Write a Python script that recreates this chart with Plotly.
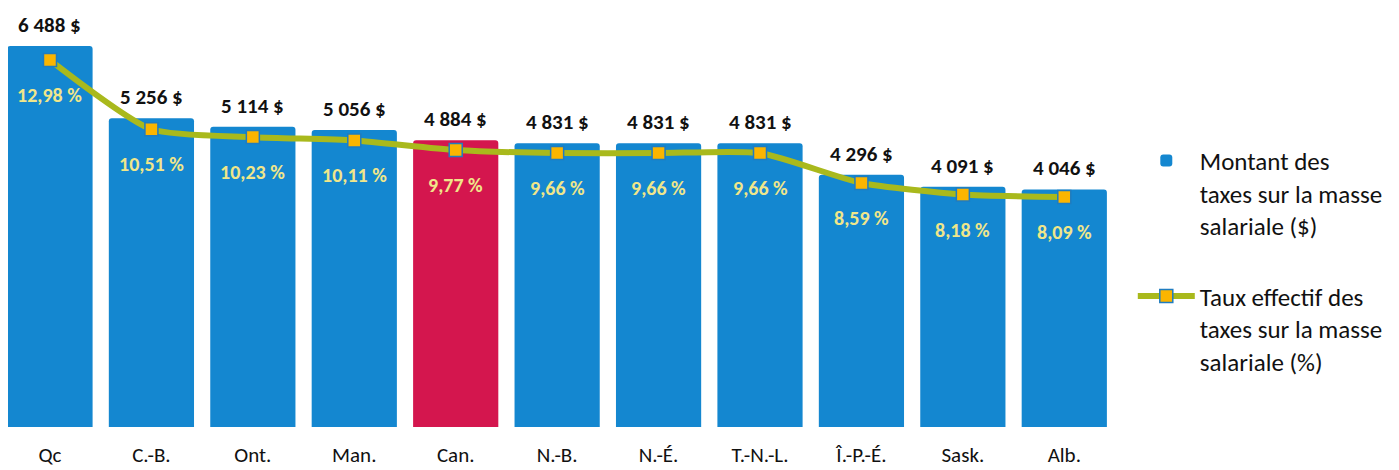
import plotly.graph_objects as go

categories = ["Qc", "C.-B.", "Ont.", "Man.", "Can.", "N.-B.", "N.-É.", "T.-N.-L.", "Î.-P.-É.", "Sask.", "Alb."]
amounts = [6488, 5256, 5114, 5056, 4884, 4831, 4831, 4831, 4296, 4091, 4046]
rates = [12.98, 10.51, 10.23, 10.11, 9.77, 9.66, 9.66, 9.66, 8.59, 8.18, 8.09]
highlight = "Can."

BLUE = "#1487d0"
RED = "#d4164e"
FONT = "Carlito, Calibri, 'Open Sans', sans-serif"

bar_colors = [RED if c == highlight else BLUE for c in categories]

def fmt_amount(v):
    return f"{v:,}".replace(",", " ") + " $"

def fmt_rate(v):
    return f"{v:.2f}".replace(".", ",") + " %"

fig = go.Figure()
fig.add_trace(go.Bar(
    x=categories, y=amounts,
    marker=dict(color=bar_colors, line=dict(width=0)),
    name="Montant des<br>taxes sur la masse<br>salariale ($)",
    legendgroup="a",
    hoverinfo="skip",
))
fig.add_trace(go.Scatter(
    x=categories, y=rates, yaxis="y2",
    mode="lines+markers",
    line=dict(color="#a9b91c", width=6, shape="spline", smoothing=0.6),
    marker=dict(symbol="square", size=13, color="#fbb500", line=dict(color="#1f7cc0", width=1.5)),
    name="Taux effectif des<br>taxes sur la masse<br>salariale (%)",
    legendgroup="b",
    hoverinfo="skip",
))

annotations = []
for c, a, r in zip(categories, amounts, rates):
    annotations.append(dict(
        x=c, y=a, xref="x", yref="y", text="<b>" + fmt_amount(a) + "</b>",
        showarrow=False, yanchor="middle", yshift=21,
        font=dict(family=FONT, size=21, color="#111111"),
    ))
    annotations.append(dict(
        x=c, y=r, xref="x", yref="y2", text="<b>" + fmt_rate(r) + "</b>",
        showarrow=False, yanchor="middle", yshift=-35,
        font=dict(family=FONT, size=20, color="#f0e68a"),
    ))

fig.update_layout(
    width=1399, height=470,
    margin=dict(l=0, r=292, t=12, b=51, autoexpand=False),
    paper_bgcolor="white", plot_bgcolor="white",
    bargap=0.16,
    barcornerradius=3,
    font=dict(family=FONT, color="#111111"),
    xaxis=dict(
        range=[-0.414, 10.5],
        tickfont=dict(family=FONT, size=21, color="#111111"),
        ticks="outside", ticklen=9, tickcolor="rgba(0,0,0,0)",
        showline=False, showgrid=False, zeroline=False, automargin=False,
    ),
    yaxis=dict(range=[0, 6930], visible=False),
    yaxis2=dict(range=[-0.118, 14.41], visible=False, overlaying="y", side="right"),
    showlegend=True,
    legend=dict(
        xref="container", yref="container",
        x=0.804, y=0.724, xanchor="left", yanchor="top",
        font=dict(family=FONT, size=25, color="#111111"),
        valign="top", traceorder="grouped", tracegroupgap=35,
        itemwidth=57, maxheight=460,
        bgcolor="rgba(0,0,0,0)",
    ),
    annotations=annotations,
)

fig.write_html("out.html")
